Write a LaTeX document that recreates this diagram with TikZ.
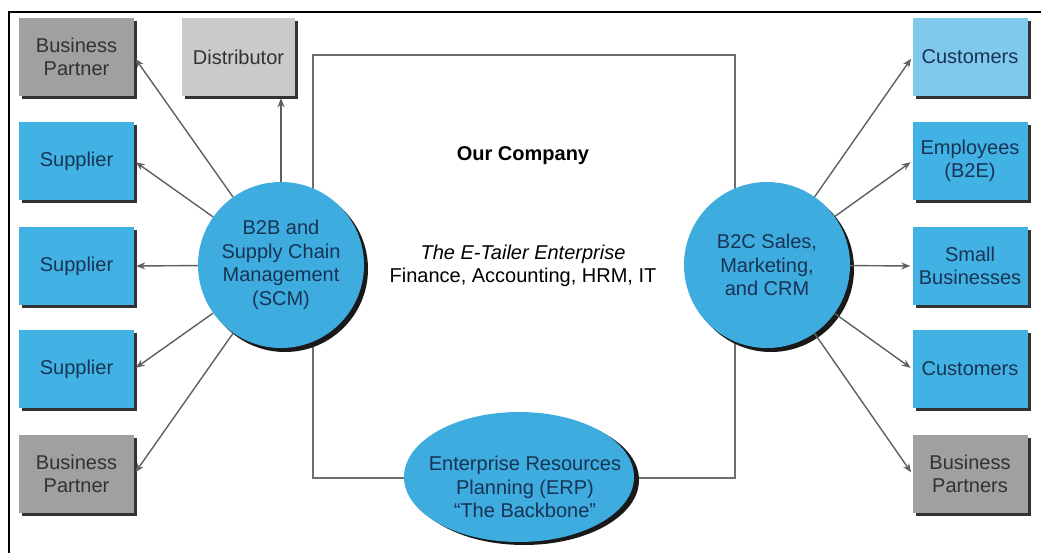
\documentclass[tikz,border=0pt]{standalone}
\usepackage{fontspec}
\setmainfont{Liberation Sans}
\usetikzlibrary{shapes.geometric,shadows,arrows.meta}
\definecolor{boxblue}{RGB}{66,178,228}
\definecolor{lightblue}{RGB}{128,200,236}
\definecolor{boxgray}{RGB}{160,160,163}
\definecolor{lightgraybox}{RGB}{202,202,205}
\definecolor{circblue}{RGB}{62,172,222}
\definecolor{navytext}{RGB}{24,52,84}
\definecolor{graytext}{RGB}{50,50,52}
\definecolor{linegray}{RGB}{95,95,98}
\definecolor{framegray}{RGB}{110,110,112}
\begin{document}
\begin{tikzpicture}[x=1pt,y=-1pt,
  base/.style={font=\fontsize{20}{23.5}\selectfont, align=center, inner sep=0pt},
  box/.style={base, rectangle, minimum width=115pt, minimum height=78pt,
    drop shadow={shadow xshift=3pt,shadow yshift=-3pt,fill=black!80,opacity=1}},
  bluebox/.style={box, fill=boxblue, text=navytext},
  lbluebox/.style={box, fill=lightblue, text=navytext},
  graybox/.style={box, fill=boxgray, text=graytext},
  lgraybox/.style={box, fill=lightgraybox, text=graytext},
  hub/.style={base, circle, fill=circblue, text=navytext, minimum size=166pt,
    drop shadow={shadow xshift=4pt,shadow yshift=-4pt,fill=black!90,opacity=1}},
  erpshape/.style={ellipse, fill=circblue, minimum width=230pt, minimum height=130pt, inner sep=0pt,
    drop shadow={shadow xshift=5pt,shadow yshift=-3pt,fill=black!90,opacity=1}},
  txt/.style={base},
  conn/.style={draw=linegray, line width=1.4pt, shorten >=2pt,
    -{Stealth[length=9pt,width=7pt,fill=black!80]}},
]
\useasboundingbox (0,0) rectangle (1041,553);
% outer frame
\draw[line width=1.5pt, black] (9,553) -- (9,12) -- (1041,12);
% company rectangle
\draw[line width=1.5pt, framegray] (313,55) rectangle (735,478);

% left boxes
\node[graybox] (bp1) at (76.5,57) {Business\\Partner};
\node[lgraybox, minimum width=113pt] (dist) at (238.5,57) {Distributor};
\node[bluebox] (sup1) at (76.5,161) {Supplier};
\node[bluebox] (sup2) at (76.5,266) {Supplier};
\node[bluebox] (sup3) at (76.5,369) {Supplier};
\node[graybox] (bp2) at (76.5,474) {Business\\Partner};

% right boxes
\node[lbluebox] (cust1) at (970,57) {Customers};
\node[bluebox] (emp) at (970,161) {Employees\\(B2E)};
\node[bluebox] (small) at (970,266) {Small\\Businesses};
\node[bluebox] (cust2) at (970,369) {Customers};
\node[graybox] (bps) at (970,474) {Business\\Partners};

% hubs
\node[hub] (b2b) at (281,265) {B2B and\\Supply Chain\\Management\\(SCM)};
\node[hub] (b2c) at (767,265) {B2C Sales,\\Marketing,\\and CRM};
\node[erpshape] (erp) at (519,477) {};
\node[txt, text=navytext] (erptxt) at (525,487) {Enterprise Resources\\Planning (ERP)\\\textquotedblleft The Backbone\textquotedblright};

% center texts
\node[txt, font=\fontsize{20}{23.5}\selectfont\bfseries] (our) at (523,156) {Our Company};
\node[txt] (etail) at (523,266) {\textit{The E-Tailer Enterprise}\\Finance, Accounting, HRM, IT};

% connectors
\draw[conn] (b2b) -- (bp1.east);
\draw[conn] (b2b) -- (b2b |- dist.south);
\draw[conn] (b2b) -- (sup1.east);
\draw[conn] (b2b) -- (sup2.east);
\draw[conn] (b2b) -- (sup3.east);
\draw[conn] (b2b) -- (bp2.east);

\draw[conn] (b2c) -- (cust1.west);
\draw[conn] (b2c) -- (emp.west);
\draw[conn] (b2c) -- (small.west);
\draw[conn] (b2c) -- (cust2.west);
\draw[conn] (b2c) -- (bps.west);
\end{tikzpicture}
\end{document}
